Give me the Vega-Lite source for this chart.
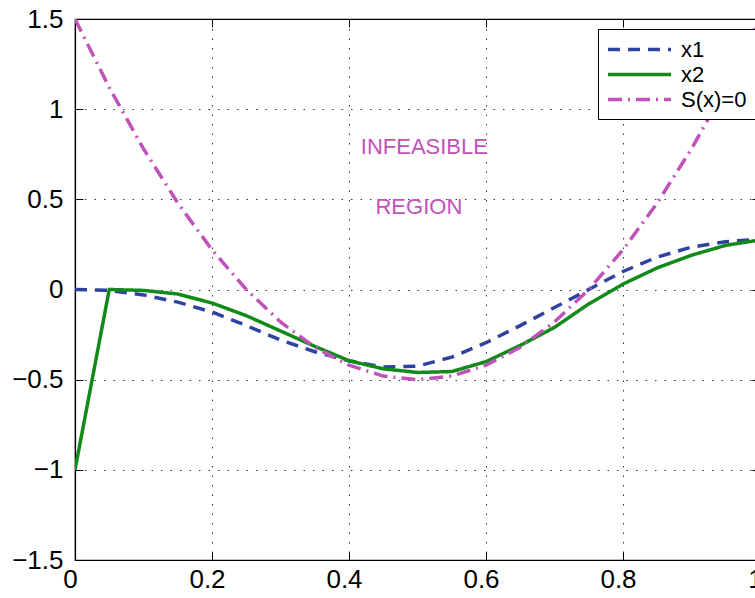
{
  "$schema": "https://vega.github.io/schema/vega-lite/v6.json",
  "width": 685,
  "height": 541,
  "autosize": {"type": "none"},
  "padding": {"left": 75, "top": 19, "right": 0, "bottom": 38},
  "background": "white",
  "config": {
    "font": "Liberation Sans",
    "view": {"stroke": "black", "strokeWidth": 1.2},
    "axis": {
      "labelFont": "Liberation Sans",
      "labelFontSize": 26,
      "labelColor": "black",
      "domainColor": "black",
      "domainWidth": 1.2,
      "tickColor": "black",
      "tickSize": -8,
      "tickWidth": 1,
      "gridColor": "black",
      "gridDash": [1.5, 8],
      "gridOpacity": 0.8,
      "gridWidth": 1,
      "title": null
    },
    "legend": {
      "orient": "none",
      "legendX": 523,
      "legendY": 10,
      "strokeColor": "black",
      "fillColor": "white",
      "padding": 8,
      "labelFont": "Liberation Sans",
      "labelFontSize": 22,
      "labelColor": "black",
      "labelOffset": 50,
      "symbolType": "M-1,0H5",
      "symbolSize": 441,
      "symbolStrokeWidth": 3.5,
      "rowPadding": 1,
      "title": null
    }
  },
  "datasets": {
    "curves": [
      {"series": "x1", "x": 0.0, "y": 0.0},
      {"series": "x1", "x": 0.05, "y": -0.005},
      {"series": "x1", "x": 0.1, "y": -0.03},
      {"series": "x1", "x": 0.15, "y": -0.07},
      {"series": "x1", "x": 0.2, "y": -0.125},
      {"series": "x1", "x": 0.25, "y": -0.2},
      {"series": "x1", "x": 0.3, "y": -0.28},
      {"series": "x1", "x": 0.35, "y": -0.345},
      {"series": "x1", "x": 0.4, "y": -0.395},
      {"series": "x1", "x": 0.45, "y": -0.43},
      {"series": "x1", "x": 0.5, "y": -0.425},
      {"series": "x1", "x": 0.55, "y": -0.375},
      {"series": "x1", "x": 0.6, "y": -0.295},
      {"series": "x1", "x": 0.65, "y": -0.2},
      {"series": "x1", "x": 0.7, "y": -0.1},
      {"series": "x1", "x": 0.75, "y": 0.0},
      {"series": "x1", "x": 0.8, "y": 0.1},
      {"series": "x1", "x": 0.85, "y": 0.18},
      {"series": "x1", "x": 0.9, "y": 0.235},
      {"series": "x1", "x": 0.95, "y": 0.265},
      {"series": "x1", "x": 1.0, "y": 0.28},
      {"series": "x2", "x": 0.0, "y": -1.0},
      {"series": "x2", "x": 0.05, "y": 0.0},
      {"series": "x2", "x": 0.1, "y": -0.005},
      {"series": "x2", "x": 0.15, "y": -0.025},
      {"series": "x2", "x": 0.2, "y": -0.075},
      {"series": "x2", "x": 0.25, "y": -0.145},
      {"series": "x2", "x": 0.3, "y": -0.23},
      {"series": "x2", "x": 0.35, "y": -0.315},
      {"series": "x2", "x": 0.4, "y": -0.395},
      {"series": "x2", "x": 0.45, "y": -0.44},
      {"series": "x2", "x": 0.5, "y": -0.46},
      {"series": "x2", "x": 0.55, "y": -0.455},
      {"series": "x2", "x": 0.6, "y": -0.4},
      {"series": "x2", "x": 0.65, "y": -0.31},
      {"series": "x2", "x": 0.7, "y": -0.21},
      {"series": "x2", "x": 0.75, "y": -0.08},
      {"series": "x2", "x": 0.8, "y": 0.03},
      {"series": "x2", "x": 0.85, "y": 0.12},
      {"series": "x2", "x": 0.9, "y": 0.19},
      {"series": "x2", "x": 0.95, "y": 0.245},
      {"series": "x2", "x": 1.0, "y": 0.275},
      {"series": "S(x)=0", "x": 0.0, "y": 1.5},
      {"series": "S(x)=0", "x": 0.05, "y": 1.12},
      {"series": "S(x)=0", "x": 0.1, "y": 0.78},
      {"series": "S(x)=0", "x": 0.15, "y": 0.48},
      {"series": "S(x)=0", "x": 0.2, "y": 0.22},
      {"series": "S(x)=0", "x": 0.25, "y": 0.0},
      {"series": "S(x)=0", "x": 0.3, "y": -0.18},
      {"series": "S(x)=0", "x": 0.35, "y": -0.32},
      {"series": "S(x)=0", "x": 0.4, "y": -0.42},
      {"series": "S(x)=0", "x": 0.45, "y": -0.48},
      {"series": "S(x)=0", "x": 0.5, "y": -0.5},
      {"series": "S(x)=0", "x": 0.55, "y": -0.48},
      {"series": "S(x)=0", "x": 0.6, "y": -0.42},
      {"series": "S(x)=0", "x": 0.65, "y": -0.32},
      {"series": "S(x)=0", "x": 0.7, "y": -0.18},
      {"series": "S(x)=0", "x": 0.75, "y": 0.0},
      {"series": "S(x)=0", "x": 0.8, "y": 0.22},
      {"series": "S(x)=0", "x": 0.85, "y": 0.48},
      {"series": "S(x)=0", "x": 0.9, "y": 0.78},
      {"series": "S(x)=0", "x": 0.95, "y": 1.12},
      {"series": "S(x)=0", "x": 1.0, "y": 1.5}
    ],
    "labels": [
      {"x": 0.51, "y": 0.79, "text": "INFEASIBLE"},
      {"x": 0.502, "y": 0.455, "text": "REGION"}
    ]
  },
  "layer": [
    {
      "data": {"name": "curves"},
      "mark": {"type": "line", "strokeWidth": 3.5, "clip": true},
      "encoding": {
        "x": {
          "field": "x", "type": "quantitative",
          "scale": {"domain": [0, 1], "nice": false},
          "axis": {"values": [0, 0.2, 0.4, 0.6, 0.8, 1], "format": "~g", "labelPadding": 14, "labelOffset": -5, "labelFlush": false}
        },
        "y": {
          "field": "y", "type": "quantitative",
          "scale": {"domain": [-1.5, 1.5], "nice": false},
          "axis": {"values": [-1.5, -1, -0.5, 0, 0.5, 1, 1.5], "format": "~g", "labelPadding": 20, "labelFlush": false}
        },
        "color": {
          "field": "series", "type": "nominal",
          "scale": {"domain": ["x1", "x2", "S(x)=0"], "range": ["#2f42a0", "#128a1a", "#c052b9"]}
        },
        "strokeDash": {
          "field": "series", "type": "nominal",
          "scale": {"domain": ["x1", "x2", "S(x)=0"], "range": [[12, 8], [1, 0], [14, 6, 2, 6]]}
        },
        "order": {"field": "x", "type": "quantitative"}
      }
    },
    {
      "data": {"name": "labels"},
      "mark": {"type": "text", "fontSize": 22, "color": "#c052b9", "font": "Liberation Sans", "align": "center", "baseline": "middle"},
      "encoding": {
        "x": {"field": "x", "type": "quantitative", "axis": {"orient": "top", "values": [0, 0.2, 0.4, 0.6, 0.8, 1], "labels": false, "grid": false, "domain": false}},
        "y": {"field": "y", "type": "quantitative", "axis": {"orient": "right", "values": [-1.5, -1, -0.5, 0, 0.5, 1, 1.5], "labels": false, "grid": false, "domain": false}},
        "text": {"field": "text"}
      }
    }
  ],
  "resolve": {"axis": {"x": "independent", "y": "independent"}}
}
